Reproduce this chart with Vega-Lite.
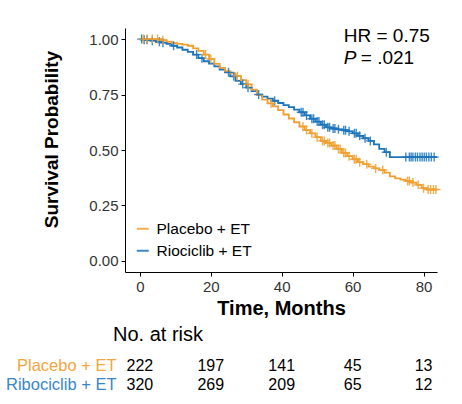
{
  "$schema": "https://vega.github.io/schema/vega-lite/v6.json",
  "padding": {"left": 5, "top": 26, "right": 5, "bottom": 0},
  "background": "white",
  "spacing": 7,
  "config": {
    "font": "Liberation Sans",
    "view": {"stroke": null},
    "axis": {"grid": false, "domainColor": "#000000", "tickColor": "#000000", "labelColor": "#333333", "labelFont": "Liberation Sans", "titleFont": "Liberation Sans", "titleColor": "#000000"}
  },
  "datasets": {
    "km": [
      {"arm":"Riociclib + ET","t":0,"s":1},
      {"arm":"Riociclib + ET","t":1.5,"s":0.997},
      {"arm":"Riociclib + ET","t":3,"s":0.993},
      {"arm":"Riociclib + ET","t":4.5,"s":0.988},
      {"arm":"Riociclib + ET","t":6,"s":0.984},
      {"arm":"Riociclib + ET","t":7.5,"s":0.978},
      {"arm":"Riociclib + ET","t":9,"s":0.97},
      {"arm":"Riociclib + ET","t":10.5,"s":0.962},
      {"arm":"Riociclib + ET","t":12,"s":0.952},
      {"arm":"Riociclib + ET","t":13.5,"s":0.942},
      {"arm":"Riociclib + ET","t":15,"s":0.93},
      {"arm":"Riociclib + ET","t":16.5,"s":0.914},
      {"arm":"Riociclib + ET","t":18,"s":0.9},
      {"arm":"Riociclib + ET","t":19.5,"s":0.889},
      {"arm":"Riociclib + ET","t":21,"s":0.877},
      {"arm":"Riociclib + ET","t":22.5,"s":0.863},
      {"arm":"Riociclib + ET","t":24,"s":0.85},
      {"arm":"Riociclib + ET","t":25.5,"s":0.832},
      {"arm":"Riociclib + ET","t":27,"s":0.812},
      {"arm":"Riociclib + ET","t":28.5,"s":0.797},
      {"arm":"Riociclib + ET","t":30,"s":0.781},
      {"arm":"Riociclib + ET","t":31.5,"s":0.765},
      {"arm":"Riociclib + ET","t":33,"s":0.75},
      {"arm":"Riociclib + ET","t":34.5,"s":0.741},
      {"arm":"Riociclib + ET","t":36,"s":0.732},
      {"arm":"Riociclib + ET","t":37.5,"s":0.722},
      {"arm":"Riociclib + ET","t":39,"s":0.712},
      {"arm":"Riociclib + ET","t":40.5,"s":0.702},
      {"arm":"Riociclib + ET","t":42,"s":0.693},
      {"arm":"Riociclib + ET","t":43.5,"s":0.682},
      {"arm":"Riociclib + ET","t":45,"s":0.67},
      {"arm":"Riociclib + ET","t":46.5,"s":0.656},
      {"arm":"Riociclib + ET","t":48,"s":0.641},
      {"arm":"Riociclib + ET","t":49.5,"s":0.628},
      {"arm":"Riociclib + ET","t":51,"s":0.614},
      {"arm":"Riociclib + ET","t":52.5,"s":0.602},
      {"arm":"Riociclib + ET","t":54,"s":0.597},
      {"arm":"Riociclib + ET","t":55.5,"s":0.593},
      {"arm":"Riociclib + ET","t":57,"s":0.589},
      {"arm":"Riociclib + ET","t":58.5,"s":0.584},
      {"arm":"Riociclib + ET","t":60,"s":0.575},
      {"arm":"Riociclib + ET","t":61.5,"s":0.564},
      {"arm":"Riociclib + ET","t":63,"s":0.553},
      {"arm":"Riociclib + ET","t":64.5,"s":0.541},
      {"arm":"Riociclib + ET","t":66,"s":0.525},
      {"arm":"Riociclib + ET","t":67.5,"s":0.505},
      {"arm":"Riociclib + ET","t":69,"s":0.49},
      {"arm":"Riociclib + ET","t":70.5,"s":0.468},
      {"arm":"Riociclib + ET","t":83.8,"s":0.468},
      {"arm":"Placebo + ET","t":0,"s":1},
      {"arm":"Placebo + ET","t":6,"s":0.995},
      {"arm":"Placebo + ET","t":7.5,"s":0.988},
      {"arm":"Placebo + ET","t":9,"s":0.982},
      {"arm":"Placebo + ET","t":10.5,"s":0.978},
      {"arm":"Placebo + ET","t":12,"s":0.975},
      {"arm":"Placebo + ET","t":13.5,"s":0.97},
      {"arm":"Placebo + ET","t":15,"s":0.958},
      {"arm":"Placebo + ET","t":16.5,"s":0.947},
      {"arm":"Placebo + ET","t":18,"s":0.93},
      {"arm":"Placebo + ET","t":19.5,"s":0.91},
      {"arm":"Placebo + ET","t":21,"s":0.888},
      {"arm":"Placebo + ET","t":22.5,"s":0.87},
      {"arm":"Placebo + ET","t":24,"s":0.855},
      {"arm":"Placebo + ET","t":25.5,"s":0.845},
      {"arm":"Placebo + ET","t":27,"s":0.833},
      {"arm":"Placebo + ET","t":28.5,"s":0.815},
      {"arm":"Placebo + ET","t":30,"s":0.796},
      {"arm":"Placebo + ET","t":31.5,"s":0.772},
      {"arm":"Placebo + ET","t":33,"s":0.748},
      {"arm":"Placebo + ET","t":34.5,"s":0.727},
      {"arm":"Placebo + ET","t":36,"s":0.71},
      {"arm":"Placebo + ET","t":37.5,"s":0.697},
      {"arm":"Placebo + ET","t":39,"s":0.68},
      {"arm":"Placebo + ET","t":40.5,"s":0.66},
      {"arm":"Placebo + ET","t":42,"s":0.642},
      {"arm":"Placebo + ET","t":43.5,"s":0.625},
      {"arm":"Placebo + ET","t":45,"s":0.606},
      {"arm":"Placebo + ET","t":46.5,"s":0.59},
      {"arm":"Placebo + ET","t":48,"s":0.575},
      {"arm":"Placebo + ET","t":49.5,"s":0.558},
      {"arm":"Placebo + ET","t":51,"s":0.541},
      {"arm":"Placebo + ET","t":52.5,"s":0.532},
      {"arm":"Placebo + ET","t":54,"s":0.52},
      {"arm":"Placebo + ET","t":55.5,"s":0.505},
      {"arm":"Placebo + ET","t":57,"s":0.487},
      {"arm":"Placebo + ET","t":58.5,"s":0.472},
      {"arm":"Placebo + ET","t":60,"s":0.458},
      {"arm":"Placebo + ET","t":61.5,"s":0.445},
      {"arm":"Placebo + ET","t":63,"s":0.436},
      {"arm":"Placebo + ET","t":64.5,"s":0.425},
      {"arm":"Placebo + ET","t":66,"s":0.417},
      {"arm":"Placebo + ET","t":67.5,"s":0.41},
      {"arm":"Placebo + ET","t":69,"s":0.398},
      {"arm":"Placebo + ET","t":70.5,"s":0.381},
      {"arm":"Placebo + ET","t":72,"s":0.372},
      {"arm":"Placebo + ET","t":73.5,"s":0.366},
      {"arm":"Placebo + ET","t":75,"s":0.36},
      {"arm":"Placebo + ET","t":76.5,"s":0.353},
      {"arm":"Placebo + ET","t":78,"s":0.343},
      {"arm":"Placebo + ET","t":79.5,"s":0.328},
      {"arm":"Placebo + ET","t":81,"s":0.322},
      {"arm":"Placebo + ET","t":83.8,"s":0.322}
    ],
    "cens": [
      {"arm":"Riociclib + ET","t":0.5,"s":1},
      {"arm":"Riociclib + ET","t":1.2,"s":0.997},
      {"arm":"Riociclib + ET","t":2,"s":0.997},
      {"arm":"Riociclib + ET","t":3.5,"s":0.993},
      {"arm":"Riociclib + ET","t":5.5,"s":0.988},
      {"arm":"Riociclib + ET","t":6.5,"s":0.984},
      {"arm":"Riociclib + ET","t":9.5,"s":0.97},
      {"arm":"Riociclib + ET","t":16,"s":0.93},
      {"arm":"Riociclib + ET","t":17.5,"s":0.914},
      {"arm":"Riociclib + ET","t":25,"s":0.85},
      {"arm":"Riociclib + ET","t":26.5,"s":0.832},
      {"arm":"Riociclib + ET","t":29,"s":0.797},
      {"arm":"Riociclib + ET","t":30.5,"s":0.781},
      {"arm":"Riociclib + ET","t":33.5,"s":0.75},
      {"arm":"Riociclib + ET","t":38,"s":0.722},
      {"arm":"Riociclib + ET","t":45.5,"s":0.67},
      {"arm":"Riociclib + ET","t":46,"s":0.67},
      {"arm":"Riociclib + ET","t":47,"s":0.656},
      {"arm":"Riociclib + ET","t":48.5,"s":0.641},
      {"arm":"Riociclib + ET","t":49,"s":0.641},
      {"arm":"Riociclib + ET","t":50,"s":0.628},
      {"arm":"Riociclib + ET","t":50.5,"s":0.628},
      {"arm":"Riociclib + ET","t":51.5,"s":0.614},
      {"arm":"Riociclib + ET","t":52,"s":0.614},
      {"arm":"Riociclib + ET","t":53,"s":0.602},
      {"arm":"Riociclib + ET","t":53.5,"s":0.602},
      {"arm":"Riociclib + ET","t":54.5,"s":0.597},
      {"arm":"Riociclib + ET","t":55,"s":0.597},
      {"arm":"Riociclib + ET","t":56,"s":0.593},
      {"arm":"Riociclib + ET","t":57.5,"s":0.589},
      {"arm":"Riociclib + ET","t":58,"s":0.589},
      {"arm":"Riociclib + ET","t":59,"s":0.584},
      {"arm":"Riociclib + ET","t":60.5,"s":0.575},
      {"arm":"Riociclib + ET","t":61,"s":0.575},
      {"arm":"Riociclib + ET","t":62,"s":0.564},
      {"arm":"Riociclib + ET","t":63.5,"s":0.553},
      {"arm":"Riociclib + ET","t":65,"s":0.541},
      {"arm":"Riociclib + ET","t":69.5,"s":0.49},
      {"arm":"Riociclib + ET","t":75,"s":0.468},
      {"arm":"Riociclib + ET","t":76,"s":0.468},
      {"arm":"Riociclib + ET","t":76.5,"s":0.468},
      {"arm":"Riociclib + ET","t":77,"s":0.468},
      {"arm":"Riociclib + ET","t":77.7,"s":0.468},
      {"arm":"Riociclib + ET","t":78.3,"s":0.468},
      {"arm":"Riociclib + ET","t":79,"s":0.468},
      {"arm":"Riociclib + ET","t":79.6,"s":0.468},
      {"arm":"Riociclib + ET","t":80.2,"s":0.468},
      {"arm":"Riociclib + ET","t":80.8,"s":0.468},
      {"arm":"Riociclib + ET","t":81.5,"s":0.468},
      {"arm":"Riociclib + ET","t":82.2,"s":0.468},
      {"arm":"Riociclib + ET","t":83,"s":0.468},
      {"arm":"Placebo + ET","t":1,"s":1},
      {"arm":"Placebo + ET","t":2,"s":1},
      {"arm":"Placebo + ET","t":3.5,"s":1},
      {"arm":"Placebo + ET","t":5,"s":1},
      {"arm":"Placebo + ET","t":6.5,"s":0.995},
      {"arm":"Placebo + ET","t":18.5,"s":0.93},
      {"arm":"Placebo + ET","t":20,"s":0.91},
      {"arm":"Placebo + ET","t":27.5,"s":0.833},
      {"arm":"Placebo + ET","t":30.5,"s":0.796},
      {"arm":"Placebo + ET","t":37,"s":0.71},
      {"arm":"Placebo + ET","t":46,"s":0.606},
      {"arm":"Placebo + ET","t":47,"s":0.59},
      {"arm":"Placebo + ET","t":48.5,"s":0.575},
      {"arm":"Placebo + ET","t":50,"s":0.558},
      {"arm":"Placebo + ET","t":51.5,"s":0.541},
      {"arm":"Placebo + ET","t":52,"s":0.541},
      {"arm":"Placebo + ET","t":53,"s":0.532},
      {"arm":"Placebo + ET","t":53.5,"s":0.532},
      {"arm":"Placebo + ET","t":54.5,"s":0.52},
      {"arm":"Placebo + ET","t":55,"s":0.52},
      {"arm":"Placebo + ET","t":56,"s":0.505},
      {"arm":"Placebo + ET","t":56.5,"s":0.505},
      {"arm":"Placebo + ET","t":57.5,"s":0.487},
      {"arm":"Placebo + ET","t":58,"s":0.487},
      {"arm":"Placebo + ET","t":59,"s":0.472},
      {"arm":"Placebo + ET","t":60.5,"s":0.458},
      {"arm":"Placebo + ET","t":61,"s":0.458},
      {"arm":"Placebo + ET","t":62,"s":0.445},
      {"arm":"Placebo + ET","t":64,"s":0.436},
      {"arm":"Placebo + ET","t":66.5,"s":0.417},
      {"arm":"Placebo + ET","t":68.5,"s":0.41},
      {"arm":"Placebo + ET","t":75.5,"s":0.36},
      {"arm":"Placebo + ET","t":76,"s":0.36},
      {"arm":"Placebo + ET","t":77,"s":0.353},
      {"arm":"Placebo + ET","t":78.5,"s":0.343},
      {"arm":"Placebo + ET","t":80,"s":0.328},
      {"arm":"Placebo + ET","t":81.3,"s":0.322},
      {"arm":"Placebo + ET","t":82,"s":0.322},
      {"arm":"Placebo + ET","t":82.8,"s":0.322},
      {"arm":"Placebo + ET","t":83.5,"s":0.322}
    ],
    "notes": [
      {"t":57.5,"s":0.988,"label":"HR = 0.75","style":"normal"},
      {"t":57.5,"s":0.886,"label":"P","style":"italic"},
      {"t":62.3,"s":0.886,"label":"= .021","style":"normal"}
    ],
    "risk": [
      {"arm":"Placebo + ET","t":0,"n":"222"},
      {"arm":"Placebo + ET","t":20,"n":"197"},
      {"arm":"Placebo + ET","t":40,"n":"141"},
      {"arm":"Placebo + ET","t":60,"n":"45"},
      {"arm":"Placebo + ET","t":80,"n":"13"},
      {"arm":"Ribociclib + ET","t":0,"n":"320"},
      {"arm":"Ribociclib + ET","t":20,"n":"269"},
      {"arm":"Ribociclib + ET","t":40,"n":"209"},
      {"arm":"Ribociclib + ET","t":60,"n":"65"},
      {"arm":"Ribociclib + ET","t":80,"n":"12"}
    ]
  },
  "vconcat": [
    {
      "width": 312,
      "height": 244,
      "layer": [
        {
          "data": {"name": "km"},
          "mark": {"type": "line", "interpolate": "step-after", "strokeWidth": 1.8},
          "encoding": {
            "x": {"field": "t", "type": "quantitative", "scale": {"domain": [-4.2, 83.8], "nice": false, "zero": false},
              "axis": {"values": [0, 20, 40, 60, 80], "title": "Time, Months", "titleFontSize": 20, "titleFontWeight": "bold", "labelFontSize": 15, "tickSize": 4, "labelPadding": 3, "titlePadding": 4}},
            "y": {"field": "s", "type": "quantitative", "scale": {"domain": [-0.05, 1.05], "nice": false, "zero": false},
              "axis": {"values": [0, 0.25, 0.5, 0.75, 1], "format": ".2f", "title": "Survival Probability", "titleFontSize": 19, "titleFontWeight": "bold", "labelFontSize": 15, "tickSize": 4, "labelPadding": 3, "titlePadding": 27, "titleY": 111}},
            "color": {"field": "arm", "type": "nominal",
              "scale": {"domain": ["Placebo + ET", "Riociclib + ET"], "range": ["#F0A030", "#1C75BC"]},
              "legend": {"orient": "none", "legendX": 10, "legendY": 193, "title": null, "symbolType": "stroke", "symbolSize": 144, "symbolStrokeWidth": 2, "labelFontSize": 15.5, "labelColor": "#000000", "rowPadding": 5, "labelOffset": 6}},
            "detail": {"field": "arm"}
          }
        },
        {
          "data": {"name": "cens"},
          "mark": {"type": "point", "shape": "M-1,0H1M0,-1V1", "filled": false, "size": 81, "strokeWidth": 1.4, "opacity": 0.85},
          "encoding": {
            "x": {"field": "t", "type": "quantitative"},
            "y": {"field": "s", "type": "quantitative"},
            "color": {"field": "arm", "type": "nominal"}
          }
        },
        {
          "data": {"name": "notes"},
          "transform": [{"filter": "datum.style == 'normal'"}],
          "mark": {"type": "text", "fontSize": 19, "baseline": "alphabetic", "align": "left", "color": "#000000"},
          "encoding": {
            "x": {"field": "t", "type": "quantitative"},
            "y": {"field": "s", "type": "quantitative"},
            "text": {"field": "label"}
          }
        },
        {
          "data": {"name": "notes"},
          "transform": [{"filter": "datum.style == 'italic'"}],
          "mark": {"type": "text", "fontSize": 19, "baseline": "alphabetic", "align": "left", "fontStyle": "italic", "color": "#000000"},
          "encoding": {
            "x": {"field": "t", "type": "quantitative"},
            "y": {"field": "s", "type": "quantitative"},
            "text": {"field": "label"}
          }
        }
      ]
    },
    {
      "width": 312,
      "height": 38,
      "title": {"text": "No. at risk", "anchor": "start", "frame": "group", "dx": -12, "fontSize": 20, "fontWeight": "normal", "offset": 11, "font": "Liberation Sans"},
      "data": {"name": "risk"},
      "mark": {"type": "text", "fontSize": 16, "color": "#000000"},
      "encoding": {
        "x": {"field": "t", "type": "quantitative", "scale": {"domain": [-4.2, 83.8], "nice": false, "zero": false}, "axis": null},
        "y": {"field": "arm", "type": "nominal", "sort": ["Placebo + ET", "Ribociclib + ET"], "scale": {"type": "band", "paddingInner": 0, "paddingOuter": 0},
          "axis": {"title": null, "domain": false, "ticks": false, "labelFontSize": 16.5, "labelPadding": 9,
            "labelColor": {"expr": "datum.value == 'Placebo + ET' ? '#F2A540' : '#3A86C8'"}}},
        "text": {"field": "n"}
      }
    }
  ]
}
